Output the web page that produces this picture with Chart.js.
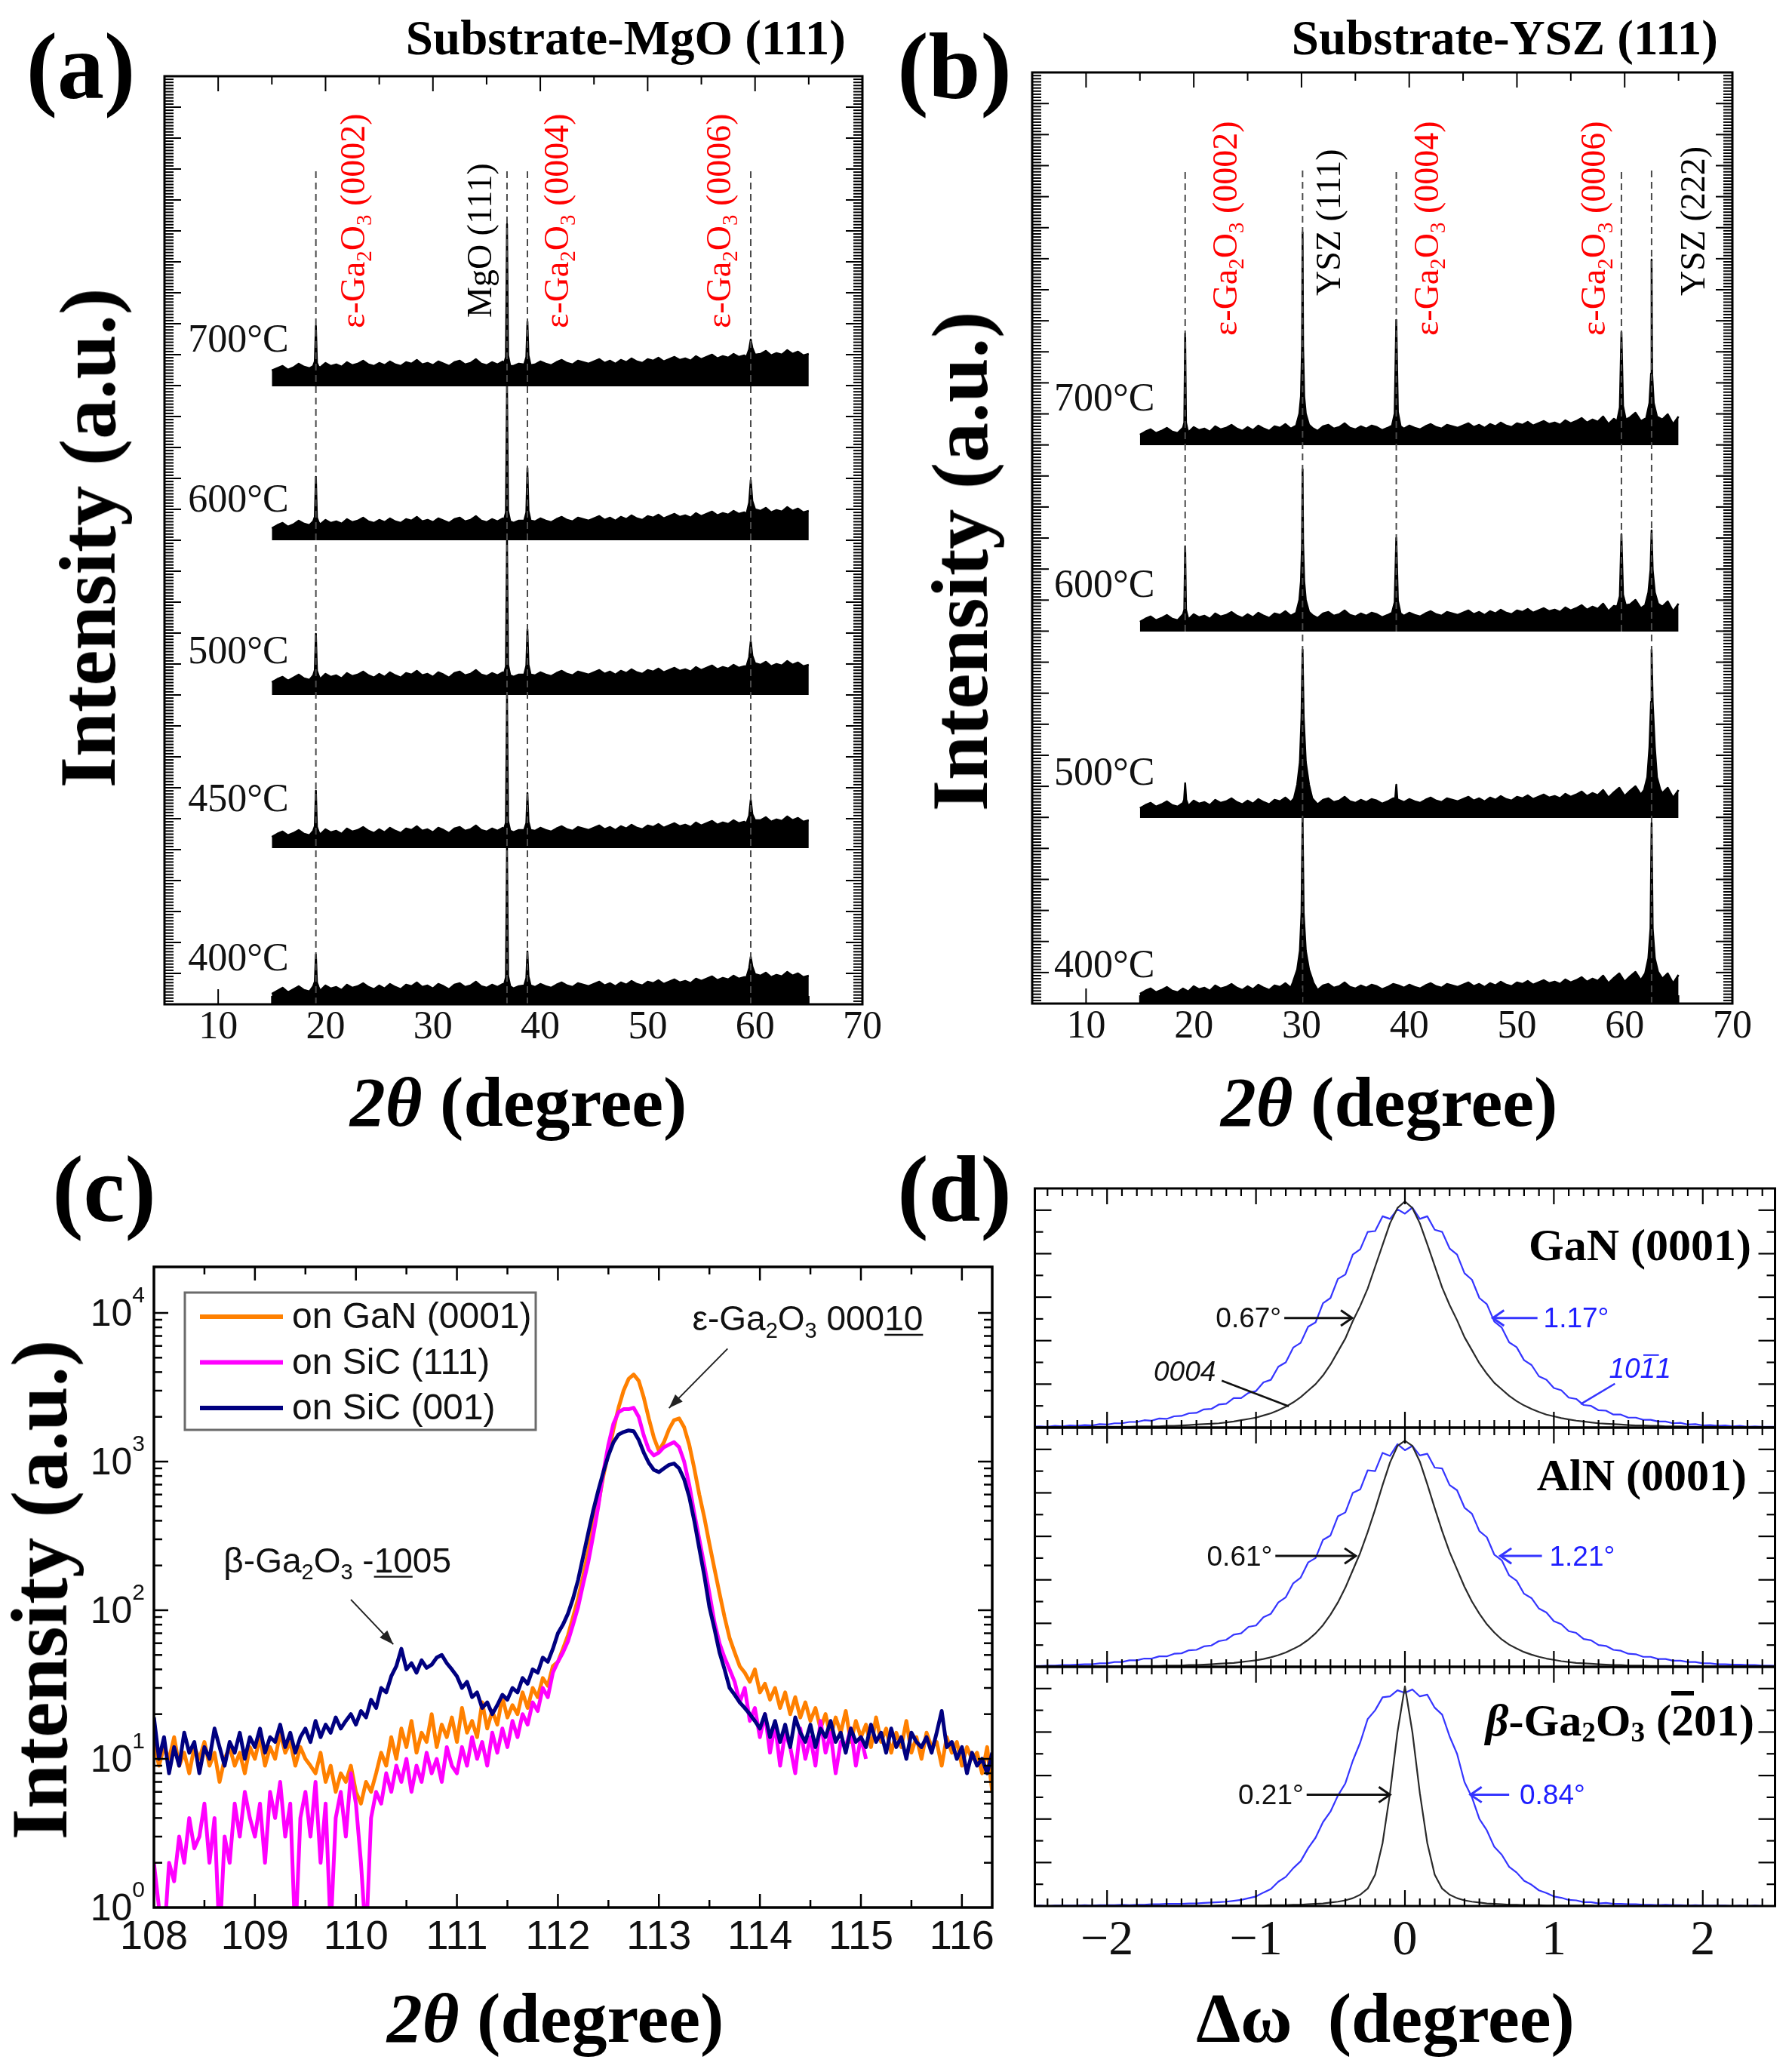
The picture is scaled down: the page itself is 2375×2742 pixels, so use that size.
<!DOCTYPE html>
<html>
<head>
<meta charset="utf-8">
<script src="https://cdn.jsdelivr.net/npm/chart.js@4.4.1/dist/chart.umd.min.js"></script>
<style>
html, body { margin: 0; padding: 0; background: #fff; }
#page { position: relative; width: 2375px; height: 2742px; overflow: hidden; background: #fff; }
canvas { position: absolute; }
.t { position: absolute; white-space: nowrap; line-height: 1; color: #000; z-index: 5;
     font-family: "Liberation Serif", "Times New Roman", serif; font-weight: bold; }
.c { transform: translate(-50%, -50%); }
.r { transform: translate(-100%, -50%); }
.v { transform: translate(-50%, -50%) rotate(-90deg); }
.t sub { font-size: 0.62em; vertical-align: -0.22em; line-height: 0; }
</style>
</head>
<body>
<div id="page">
  <canvas id="cA" width="1250" height="1420" style="left:0;top:0"></canvas>
  <canvas id="cB" width="1125" height="1420" style="left:1250px;top:0"></canvas>
  <canvas id="cC" width="1360" height="1010" style="left:0;top:1600px"></canvas>
  <canvas id="cD1" width="1075" height="335" style="left:1300px;top:1566px"></canvas>
  <canvas id="cD2" width="1075" height="335" style="left:1300px;top:1883px"></canvas>
  <canvas id="cD3" width="1075" height="416" style="left:1300px;top:2200px"></canvas>

  <div class="t c" style="left:107px;top:89px;font-size:124px">(a)</div>
  <div class="t c" style="left:1265px;top:89px;font-size:124px">(b)</div>
  <div class="t c" style="left:138px;top:1577px;font-size:124px">(c)</div>
  <div class="t c" style="left:1265px;top:1577px;font-size:124px">(d)</div>

  <div class="t r" style="left:1121px;top:50px;font-size:65px">Substrate-MgO (111)</div>
  <div class="t r" style="left:2277px;top:50px;font-size:65px">Substrate-YSZ (111)</div>

  <div class="t v" style="left:117px;top:713px;font-size:106px">Intensity (a.u.)</div>
  <div class="t v" style="left:1273px;top:744px;font-size:106px">Intensity (a.u.)</div>
  <div class="t v" style="left:53px;top:2107px;font-size:106px">Intensity (a.u.)</div>

  <div class="t c" style="left:687px;top:1460px;font-size:94px"><i>2θ</i> (degree)</div>
  <div class="t c" style="left:1841px;top:1460px;font-size:94px"><i>2θ</i> (degree)</div>
  <div class="t c" style="left:736px;top:2674px;font-size:94px"><i>2θ</i> (degree)</div>
  <div class="t c" style="left:1836px;top:2674px;font-size:94px">Δω&nbsp;&nbsp;(degree)</div>

  <div class="t r" style="left:2321px;top:1650px;font-size:60px">GaN (0001)</div>
  <div class="t r" style="left:2315px;top:1955px;font-size:60px">AlN (0001)</div>
  <div class="t r" style="left:2325px;top:2280px;font-size:60px"><i>β</i>-Ga<sub>2</sub>O<sub>3</sub> (<span style="text-decoration:overline">2</span>01)</div>
</div>

<script>
// ---------- data: (a) MgO (111), (b) YSZ (111) ----------
const xGridAB = [
  15,15.5,16,16.5,17,17.5,18,18.5,19,19.5,20,20.5,21,21.5,22,22.5,23,23.5,24,24.5,
  25,25.5,26,26.5,27,27.5,28,28.5,29,29.5,30,30.5,31,31.5,32,32.5,33,33.5,34,34.5,
  35,35.5,36,36.5,37,37.5,38,38.5,39,39.5,40,40.5,41,41.5,42,42.5,43,43.5,44,44.5,
  45,45.5,46,46.5,47,47.5,48,48.5,49,49.5,50,50.5,51,51.5,52,52.5,53,53.5,54,54.5,
  55,55.5,56,56.5,57,57.5,58,58.5,59,59.5,60,60.5,61,61.5,62,62.5,63,63.5,64,64.5,65];

const aTemps = ['700°C', '600°C', '500°C', '450°C', '400°C'];
const aBase = [819, 615, 410, 207, 0];
const aTempY = [883, 671, 470, 274, 63];
const aNoise700 = [
  840,843,846,841,844,849,845,843,847,844,850,846,848,845,851,847,849,853,848,846,
  850,847,852,848,846,851,849,854,848,850,847,852,849,846,851,853,848,850,855,849,
  847,851,848,852,850,846,849,853,851,848,852,849,847,851,854,850,848,853,851,849,
  852,855,850,853,849,854,851,856,852,850,855,853,857,852,855,858,854,856,853,859,
  855,858,861,856,859,857,862,858,860,864,859,862,866,860,863,861,867,862,865,860,862];
const aNoise600 = [
  631,635,638,633,636,641,637,635,639,636,642,638,640,637,643,639,641,645,640,638,
  642,639,644,640,638,643,641,646,640,642,639,644,641,638,643,645,640,642,647,641,
  639,643,640,644,642,638,641,645,643,640,644,641,639,643,646,642,640,645,643,641,
  644,647,642,645,641,646,643,648,644,642,647,645,649,644,647,650,646,648,645,651,
  647,650,653,648,651,649,654,650,652,656,651,654,658,652,655,653,659,654,657,652,654];
const aNoise500 = [
  427,431,434,429,433,437,432,430,435,431,438,434,436,432,439,435,437,441,436,433,
  438,434,440,436,433,439,437,442,436,438,434,440,437,433,439,441,436,438,443,437,
  435,439,436,440,438,434,437,441,439,436,440,437,435,439,442,438,436,441,439,437,
  440,443,438,441,437,442,439,444,440,438,443,441,445,440,443,446,442,444,441,447,
  443,446,449,444,447,445,450,446,448,452,447,450,454,448,451,449,455,450,453,448,450];
const aNoise450 = [
  222,226,229,224,227,231,226,224,229,225,232,228,230,226,233,229,231,235,230,227,
  232,228,234,230,227,233,231,236,230,232,228,234,231,227,233,235,230,232,237,231,
  229,233,230,234,232,228,231,235,233,230,234,231,229,233,236,232,230,235,233,231,
  234,237,232,235,231,236,233,238,234,232,237,235,239,234,237,240,236,238,235,241,
  237,240,243,238,241,239,244,240,242,246,241,244,248,242,245,243,249,244,247,242,244];
const aNoise400 = [
  14,18,22,16,20,24,19,17,22,18,25,21,23,19,26,22,24,28,23,20,
  25,21,27,23,20,26,24,29,23,25,21,27,24,20,26,28,23,25,30,24,
  22,26,23,27,25,21,24,28,26,23,27,24,22,26,29,25,23,28,26,24,
  27,30,25,28,24,29,26,31,27,25,30,28,32,27,30,33,29,31,28,34,
  31,34,37,32,35,33,38,34,36,40,35,38,42,36,39,37,43,38,41,36,38];
const aPeaks700 = [
  [[18.85,846],[19.0,852],[19.1,899],[19.2,850],[19.35,845]],
  [[36.6,848],[36.8,858],[36.9,1034],[37.0,860],[37.2,846]],
  [[38.5,848],[38.7,858],[38.8,905],[38.9,860],[39.1,847]],
  [[59.2,858],[59.45,868],[59.6,881],[59.75,870],[60.0,861]]];
const aPeaks600 = [
  [[18.85,640],[19.0,646],[19.1,699],[19.2,645],[19.35,639]],
  [[36.6,641],[36.8,652],[36.9,819],[37.0,654],[37.2,640]],
  [[38.5,641],[38.7,652],[38.8,711],[38.9,654],[39.1,641]],
  [[59.2,650],[59.45,665],[59.6,695],[59.75,667],[60.0,656]]];
const aPeaks500 = [
  [[18.85,436],[19.0,443],[19.1,491],[19.2,442],[19.35,436]],
  [[36.6,437],[36.8,448],[36.9,615],[37.0,450],[37.2,436]],
  [[38.5,437],[38.7,449],[38.8,497],[38.9,450],[39.1,437]],
  [[59.2,448],[59.45,460],[59.6,481],[59.75,462],[60.0,452]]];
const aPeaks450 = [
  [[18.85,230],[19.0,236],[19.1,283],[19.2,235],[19.35,229]],
  [[36.6,231],[36.8,241],[36.9,410],[37.0,243],[37.2,230]],
  [[38.5,231],[38.7,240],[38.8,280],[38.9,242],[39.1,231]],
  [[59.2,240],[59.45,250],[59.6,271],[59.75,252],[60.0,244]]];
const aPeaks400 = [
  [[18.85,24],[19.0,30],[19.1,66],[19.2,29],[19.35,23]],
  [[36.6,25],[36.8,36],[36.9,207],[37.0,38],[37.2,24]],
  [[38.5,25],[38.7,35],[38.8,70],[38.9,37],[39.1,25]],
  [[59.2,36],[59.45,48],[59.6,63],[59.75,50],[60.0,40]]];
const aRefX = [19.1, 36.9, 38.8, 59.6];
const aRefTop = 1109;
const aNoteX = [22.5, 34.3, 41.5, 56.6];
const aNoteY = [896, 910, 896, 896];
const aNoteText = ['ε(0002)', 'MgO (111)', 'ε(0004)', 'ε(0006)'];

const bTemps = ['700°C', '600°C', '500°C', '400°C'];
const bBase = [740, 493, 246, 0];
const bTempY = [804, 557, 308, 53];
const bNoise700 = [
  754,758,761,756,759,763,758,756,761,757,764,760,762,758,765,761,763,767,762,759,
  764,760,766,762,759,765,763,768,762,764,760,766,763,759,765,767,762,764,769,763,
  761,765,762,766,764,760,763,767,765,762,766,763,761,765,768,764,762,767,765,763,
  766,769,764,767,763,768,765,770,766,764,769,767,771,766,769,772,768,770,767,773,
  769,772,776,770,774,771,778,768,775,781,770,777,783,772,779,770,785,774,781,768,778];
const bNoise600 = [
  506,510,513,508,511,515,510,508,513,509,516,512,514,510,517,513,515,519,514,511,
  516,512,518,514,511,517,515,520,514,516,512,518,515,511,517,519,514,516,521,515,
  513,517,514,518,516,512,515,519,517,514,518,515,513,517,520,516,514,519,517,515,
  518,521,516,519,515,520,517,522,518,516,521,519,523,518,521,524,520,522,519,525,
  521,524,528,522,526,523,530,520,527,533,522,529,535,524,531,522,537,526,533,520,530];
const bNoise500 = [
  259,263,266,261,264,268,263,261,266,262,269,265,267,263,270,266,268,272,267,264,
  269,265,271,267,264,270,268,273,267,269,265,271,268,264,270,272,267,269,274,268,
  266,270,267,271,269,265,268,272,270,267,271,268,266,270,273,269,267,272,270,268,
  271,274,269,272,268,273,270,275,271,269,274,272,276,271,274,277,273,275,272,278,
  274,277,281,275,279,276,283,273,280,286,275,282,288,277,284,275,290,279,286,273,283];
const bNoise400 = [
  13,17,20,15,18,22,17,15,20,16,23,19,21,17,24,20,22,26,21,18,
  23,19,25,21,18,24,22,27,21,23,19,25,22,18,24,26,21,23,28,22,
  20,24,21,25,23,19,22,26,24,21,25,22,20,24,27,23,21,26,24,22,
  25,28,23,26,22,27,24,29,25,23,28,26,30,25,28,31,27,29,26,32,
  28,31,35,29,33,30,37,27,34,40,29,36,42,31,38,29,44,33,40,27,38];
const bPeaks700 = [
  [[19.0,763],[19.12,770],[19.2,888],[19.28,770],[19.4,762]],
  [[29.5,766],[29.8,782],[29.95,805],[30.05,870],[30.1,1022],[30.15,870],[30.25,805],[30.4,782],[30.7,767]],
  [[38.4,766],[38.65,782],[38.8,906],[38.95,784],[39.2,765]],
  [[59.3,772],[59.55,790],[59.7,890],[59.85,792],[60.1,774]],
  [[62.0,776],[62.3,796],[62.45,835],[62.5,986],[62.55,835],[62.7,796],[63.0,778]]];
const bPeaks600 = [
  [[19.0,516],[19.12,522],[19.2,606],[19.28,522],[19.4,515]],
  [[29.5,518],[29.8,535],[29.95,560],[30.05,610],[30.1,708],[30.15,610],[30.25,560],[30.4,535],[30.7,519]],
  [[38.4,518],[38.65,532],[38.8,617],[38.95,534],[39.2,517]],
  [[59.3,526],[59.55,540],[59.7,622],[59.85,542],[60.1,528]],
  [[61.9,528],[62.2,545],[62.4,575],[62.5,627],[62.6,575],[62.8,545],[63.1,530]]];
const bPeaks500 = [
  [[19.1,270],[19.2,292],[19.3,270]],
  [[29.3,272],[29.6,290],[29.85,320],[30.0,380],[30.1,469],[30.2,380],[30.4,320],[30.7,290],[31.0,272]],
  [[38.7,272],[38.8,290],[38.9,271]],
  [[61.8,283],[62.1,300],[62.3,340],[62.45,400],[62.5,469],[62.6,400],[62.8,340],[63.0,300],[63.3,284]]];
const bPeaks400 = [
  [[29.2,28],[29.6,45],[29.85,70],[30.0,120],[30.1,246],[30.2,120],[30.4,70],[30.7,45],[31.1,28]],
  [[61.9,40],[62.2,60],[62.4,100],[62.5,239],[62.6,100],[62.8,60],[63.1,42]]];
const bRefX = [19.2, 30.1, 38.8, 59.7, 62.5];
const bRefLow = [493, 0, 493, 493, 0];
const bRefTop = 1105;
const bNoteX = [22.86, 32.45, 41.6, 57.1, 66.3];
const bNoteY = [885, 938, 885, 885, 938];
const bNoteText = ['ε(0002)', 'YSZ (111)', 'ε(0004)', 'ε(0006)', 'YSZ (222)'];
const abTicks = [10, 20, 30, 40, 50, 60, 70];

// ---------- data: (c) 2theta scan, log intensity ----------
const xGridC = [
  108,108.05,108.1,108.15,108.2,108.25,108.3,108.35,108.4,108.45,108.5,108.55,108.6,108.65,108.7,108.75,108.8,108.85,108.9,108.95,
  109,109.05,109.1,109.15,109.2,109.25,109.3,109.35,109.4,109.45,109.5,109.55,109.6,109.65,109.7,109.75,109.8,109.85,109.9,109.95,
  110,110.05,110.1,110.15,110.2,110.25,110.3,110.35,110.4,110.45,110.5,110.55,110.6,110.65,110.7,110.75,110.8,110.85,110.9,110.95,
  111,111.05,111.1,111.15,111.2,111.25,111.3,111.35,111.4,111.45,111.5,111.55,111.6,111.65,111.7,111.75,111.8,111.85,111.9,111.95,
  112,112.05,112.1,112.15,112.2,112.25,112.3,112.35,112.4,112.45,112.5,112.55,112.6,112.65,112.7,112.75,112.8,112.85,112.9,112.95,
  113,113.05,113.1,113.15,113.2,113.25,113.3,113.35,113.4,113.45,113.5,113.55,113.6,113.65,113.7,113.75,113.8,113.85,113.9,113.95,
  114,114.05,114.1,114.15,114.2,114.25,114.3,114.35,114.4,114.45,114.5,114.55,114.6,114.65,114.7,114.75,114.8,114.85,114.9,114.95,
  115,115.05,115.1,115.15,115.2,115.25,115.3,115.35,115.4,115.45,115.5,115.55,115.6,115.65,115.7,115.75,115.8,115.85,115.9,115.95,
  116,116.05,116.1,116.15,116.2,116.25,116.3];
const cGaN = [
  13,9,12,10,14,9,11,8,12,10,13,9,11,7,10,12,9,11,8,12,
  10,14,9,12,10,15,11,13,9,12,10,9,8,11,7,9,6,8,7,9,
  6,5,7,6,8,11,9,14,10,16,12,18,11,15,13,20,12,17,14,19,
  13,22,15,18,14,24,16,21,17,26,19,23,20,28,22,30,26,35,31,42,
  45,55,68,90,120,170,250,380,520,800,1150,1650,2300,3000,3600,3850,3500,2700,1950,1450,
  1180,1350,1650,1900,1950,1700,1300,900,600,420,280,190,130,90,65,52,42,38,33,40,
  28,32,25,30,22,28,20,26,19,24,18,22,16,20,14,19,15,21,13,18,
  14,17,12,19,13,16,11,15,12,18,11,14,10,15,12,13,9,14,11,13,
  9,12,10,11,8,12,6];
const cSiC111 = [
  2,1,0.6,2,1.5,3,2,4,2.5,3,5,2,4,0.6,3,2,5,3,6,4,
  3,5,2,6,4,7,3,5,0.6,4,6,3,7,2,5,0.7,4,6,3,8,
  5,2,0.6,4,6,5,8,6,9,7,10,6,9,7,11,8,10,7,12,9,
  8,12,9,14,10,13,9,15,11,16,12,18,14,20,17,24,21,30,26,38,
  45,52,62,80,105,150,210,320,500,850,1300,1800,2150,2250,2250,2300,2000,1500,1200,1100,
  1150,1250,1300,1350,1250,1000,700,450,300,200,130,83,60,48,40,33,24,30,18,22,
  14,20,11,17,9,15,12,8,16,10,14,9,18,11,15,8,13,12,16,9,
  14,10];
const cSiC001 = [
  19,10,14,8,12,9,15,11,13,8,12,10,16,12,9,13,11,15,10,14,
  12,16,11,14,13,17,12,15,11,14,16,13,18,14,17,15,19,16,18,20,
  17,21,19,25,22,30,28,36,42,55,40,44,38,46,41,43,48,50,44,40,
  36,30,33,26,28,22,24,20,23,27,25,30,28,35,32,40,38,48,45,55,
  70,80,95,120,160,230,330,470,640,850,1100,1350,1520,1580,1620,1600,1400,1150,980,880,
  850,900,950,970,900,760,580,400,260,170,105,75,52,40,30,27,24,22,20,18,
  16,20,14,18,13,17,12,19,15,13,17,12,16,14,18,13,15,11,16,13,
  14,12,17,13,15,11,16,12,14,10,15,13,12,14,11,15,21,12,13,10,
  12,8,11,9,10,8,11];
const cLabels = ['on GaN (0001)', 'on SiC (111)', 'on SiC (001)'];
const cColors = ['#ff8000', '#ff00ff', '#000080'];
const cTicks = [108, 109, 110, 111, 112, 113, 114, 115, 116];
const cDecades = [1, 10, 100, 1000, 10000];
const cExp = ['0', '1', '2', '3', '4'];

// ---------- data: (d) rocking curves ----------
const xGridD = [
  -2.5,-2.45,-2.4,-2.35,-2.3,-2.25,-2.2,-2.15,-2.1,-2.05,-2,-1.95,-1.9,-1.85,-1.8,-1.75,-1.7,-1.65,-1.6,-1.55,
  -1.5,-1.45,-1.4,-1.35,-1.3,-1.25,-1.2,-1.15,-1.1,-1.05,-1,-0.95,-0.9,-0.85,-0.8,-0.75,-0.7,-0.65,-0.6,-0.55,
  -0.5,-0.45,-0.4,-0.35,-0.3,-0.25,-0.2,-0.15,-0.1,-0.05,0,
  0.05,0.1,0.15,0.2,0.25,0.3,0.35,0.4,0.45,0.5,0.55,0.6,0.65,0.7,0.75,0.8,0.85,0.9,0.95,1,
  1.05,1.1,1.15,1.2,1.25,1.3,1.35,1.4,1.45,1.5,1.55,1.6,1.65,1.7,1.75,1.8,1.85,1.9,1.95,2,
  2.05,2.1,2.15,2.2,2.25,2.3,2.35,2.4,2.45,2.5];
const dGaNBlue = [
  0.02,0.03,0.02,0.04,0.03,0.05,0.04,0.06,0.05,0.08, 0.07,0.10,0.10,0.13,0.13,0.17,0.16,0.21,0.20,0.26,
  0.27,0.33,0.34,0.42,0.43,0.53,0.55,0.68,0.68,0.80, 0.84,1.04,1.10,1.40,1.50,1.84,1.95,2.32,2.42,2.86,
  2.98,3.42,3.52,3.98,4.10,4.50,4.52,4.86,4.80,5.02, 4.92,
  5.06,4.80,4.86,4.55,4.50,4.12,3.98,3.55,3.40,2.98, 2.84,2.44,2.30,1.96,1.85,1.55,1.44,1.18,1.10,0.91,
  0.86,0.69,0.66,0.52,0.50,0.40,0.39,0.30,0.30,0.23, 0.23,0.18,0.18,0.14,0.14,0.10,0.11,0.07,0.08,0.05,
  0.06,0.04,0.05,0.03,0.04,0.02,0.03,0.02,0.02,0.02];
const dGaNBlack = [
  0.01,0.01,0.01,0.01,0.01,0.01,0.01,0.01,0.02,0.02, 0.02,0.02,0.02,0.02,0.03,0.03,0.03,0.03,0.04,0.04,
  0.05,0.06,0.07,0.08,0.09,0.10,0.12,0.14,0.17,0.20, 0.23,0.28,0.33,0.40,0.48,0.58,0.70,0.85,1.00,1.20,
  1.45,1.75,2.05,2.45,2.80,3.20,3.70,4.20,4.70,5.05, 5.20,
  5.05,4.70,4.22,3.72,3.22,2.82,2.47,2.08,1.78,1.48, 1.24,1.03,0.88,0.73,0.61,0.51,0.43,0.36,0.30,0.26,
  0.22,0.19,0.16,0.14,0.12,0.10,0.09,0.08,0.07,0.06, 0.05,0.05,0.04,0.04,0.03,0.03,0.03,0.02,0.02,0.02,
  0.02,0.02,0.01,0.01,0.01,0.01,0.01,0.01,0.01,0.01];
const dAlNBlue = [
  0.02,0.02,0.03,0.03,0.04,0.04,0.05,0.06,0.06,0.08, 0.08,0.11,0.11,0.15,0.15,0.19,0.19,0.24,0.24,0.30,
  0.31,0.38,0.39,0.47,0.49,0.59,0.62,0.74,0.77,0.92, 0.95,1.14,1.22,1.48,1.60,1.92,2.05,2.40,2.50,2.92,
  3.02,3.46,3.55,4.00,4.08,4.52,4.50,4.92,4.85,5.12, 4.98,
  5.08,4.86,4.90,4.58,4.56,4.18,4.06,3.66,3.52,3.12, 2.98,2.58,2.45,2.10,1.98,1.68,1.58,1.34,1.25,1.05,
  0.98,0.82,0.78,0.64,0.61,0.50,0.48,0.39,0.37,0.30, 0.29,0.23,0.23,0.18,0.18,0.14,0.14,0.11,0.11,0.08,
  0.08,0.06,0.06,0.05,0.05,0.04,0.04,0.03,0.03,0.02];
const dAlNBlack = [
  0.01,0.01,0.01,0.01,0.01,0.01,0.01,0.01,0.01,0.01, 0.01,0.01,0.01,0.02,0.02,0.02,0.02,0.02,0.03,0.03,
  0.03,0.04,0.04,0.05,0.06,0.07,0.08,0.09,0.11,0.13, 0.15,0.18,0.22,0.27,0.33,0.41,0.50,0.62,0.77,0.96,
  1.20,1.48,1.82,2.22,2.62,3.10,3.62,4.18,4.70,5.08, 5.20,
  5.08,4.72,4.20,3.65,3.12,2.64,2.24,1.84,1.50,1.22, 0.98,0.79,0.63,0.51,0.42,0.34,0.28,0.23,0.19,0.16,
  0.13,0.11,0.09,0.08,0.07,0.06,0.05,0.04,0.04,0.03, 0.03,0.03,0.02,0.02,0.02,0.02,0.02,0.01,0.01,0.01,
  0.01,0.01,0.01,0.01,0.01,0.01,0.01,0.01,0.01,0.01];
const dBetaBlue = [
  0.00,0.01,0.00,0.01,0.01,0.01,0.01,0.02,0.01,0.02, 0.02,0.02,0.03,0.02,0.03,0.03,0.04,0.04,0.05,0.05,
  0.05,0.06,0.06,0.07,0.08,0.09,0.10,0.12,0.14,0.18, 0.22,0.31,0.39,0.56,0.67,0.87,1.03,1.33,1.57,1.93,
  2.17,2.54,2.82,3.34,3.76,4.30,4.50,4.80,4.82,4.96, 4.90,
  4.98,4.82,4.86,4.56,4.40,3.90,3.50,2.85,2.50,2.00, 1.74,1.36,1.18,0.90,0.77,0.58,0.49,0.36,0.30,0.22,
  0.19,0.14,0.13,0.09,0.09,0.06,0.07,0.05,0.05,0.04, 0.04,0.03,0.03,0.02,0.03,0.02,0.02,0.01,0.02,0.01,
  0.01,0.01,0.01,0.00,0.01,0.00,0.01,0.00,0.00,0.00];
const dBetaBlack = [
  0,0,0,0,0,0,0,0,0,0, 0,0,0,0,0,0,0,0,0,0,
  0,0,0,0,0,0.01,0.01,0.01,0.01,0.01, 0.01,0.01,0.02,0.02,0.02,0.03,0.03,0.04,0.05,0.06,
  0.08,0.10,0.13,0.18,0.26,0.40,0.72,1.45,2.60,4.00, 5.05,
  4.00,2.60,1.45,0.72,0.40,0.26,0.18,0.13,0.10,0.08, 0.06,0.05,0.04,0.03,0.03,0.02,0.02,0.02,0.01,0.01,
  0.01,0.01,0.01,0.01,0.01,0,0,0,0,0, 0,0,0,0,0,0,0,0,0,0,
  0,0,0,0,0,0,0,0,0,0];
const dTicks = [-2, -1, 0, 1, 2];

// ---------- helpers ----------
const SERIF = '"Liberation Serif","Times New Roman",serif';
const SANS = '"Liberation Sans",Arial,sans-serif';
const BLUE = '#3535ff';

function seriesOf(grid, ys) {
  return ys.map((y, i) => ({ x: grid[i], y }));
}
function traceOf(noise, peaks) {
  const pts = [];
  xGridAB.forEach((x, i) => {
    if (!peaks.some(g => x >= g[0][0] && x <= g[g.length - 1][0])) pts.push({ x, y: noise[i] });
  });
  peaks.forEach(g => g.forEach(([x, y]) => pts.push({ x, y })));
  return pts.sort((p, q) => p.x - q.x);
}
function gaParts(code) {
  return [['ε-Ga', ''], ['2', 's'], ['O', ''], ['3', 's'], [' (' + code + ')', '']];
}
function labelParts(s) {
  return s.startsWith('ε') ? gaParts(s.slice(2, -1)) : [[s, '']];
}

function drawRich(ctx, px, py, t) {
  const size = t.size, fam = t.family || SERIF;
  ctx.save();
  ctx.translate(px, py);
  if (t.rot) ctx.rotate(t.rot);
  ctx.fillStyle = t.color || '#000';
  ctx.strokeStyle = t.color || '#000';
  ctx.textBaseline = 'alphabetic';
  ctx.textAlign = 'left';
  const base = t.baseline === 'middle' ? size * 0.34 : 0;
  const fnt = f => (f.includes('i') ? 'italic ' : '') + (t.weight || 'normal') + ' ' +
    (f.includes('s') || f.includes('p') ? Math.round(size * 0.62) : size) + 'px ' + fam;
  const widths = t.parts.map(([s, f]) => { ctx.font = fnt(f); return ctx.measureText(s).width; });
  const total = widths.reduce((p, q) => p + q, 0);
  let cx = t.align === 'right' ? -total : t.align === 'center' ? -total / 2 : 0;
  t.parts.forEach(([s, f], i) => {
    ctx.font = fnt(f);
    const dy = base + (f.includes('s') ? size * 0.2 : f.includes('p') ? -size * 0.45 : 0);
    ctx.fillText(s, cx, dy);
    ctx.lineWidth = Math.max(1.5, size * 0.05);
    if (f.includes('u')) {
      ctx.beginPath(); ctx.moveTo(cx, dy + size * 0.12); ctx.lineTo(cx + widths[i], dy + size * 0.12); ctx.stroke();
    }
    if (f.includes('o')) {
      const sh = f.includes('i') ? size * 0.12 : 0;
      ctx.beginPath(); ctx.moveTo(cx + sh, dy - size * 0.82); ctx.lineTo(cx + widths[i] + sh, dy - size * 0.82); ctx.stroke();
    }
    cx += widths[i];
  });
  ctx.restore();
}

function drawArrow(ctx, x1, y1, x2, y2, a) {
  ctx.save();
  ctx.strokeStyle = ctx.fillStyle = a.color || '#000';
  ctx.lineWidth = a.width || 2;
  ctx.beginPath(); ctx.moveTo(x1, y1); ctx.lineTo(x2, y2); ctx.stroke();
  if (a.head) {
    const ang = Math.atan2(y2 - y1, x2 - x1), L = a.size || 16, w = a.spread || 0.45;
    ctx.beginPath();
    ctx.moveTo(x2 - L * Math.cos(ang - w), y2 - L * Math.sin(ang - w));
    ctx.lineTo(x2, y2);
    ctx.lineTo(x2 - L * Math.cos(ang + w), y2 - L * Math.sin(ang + w));
    if (a.head === 'fill') { ctx.closePath(); ctx.fill(); } else ctx.stroke();
  }
  ctx.restore();
}

// frame + inward ticks on all four sides
const deco = {
  id: 'deco',
  afterDatasetsDraw(chart, args, o) {
    const { ctx, chartArea: a, scales: { x, y } } = chart;
    ctx.save();
    ctx.strokeStyle = '#000';
    const seg = (x1, y1, x2, y2) => { ctx.beginPath(); ctx.moveTo(x1, y1); ctx.lineTo(x2, y2); ctx.stroke(); };
    ctx.lineWidth = o.tickW;
    const xt = (vals, len) => vals.forEach(v => {
      const p = x.getPixelForValue(v);
      if (p < a.left + 2 || p > a.right - 2) return;
      seg(p, a.top, p, a.top + len); seg(p, a.bottom, p, a.bottom - len);
    });
    const yt = (vals, len) => vals.forEach(v => {
      const p = y.getPixelForValue(v);
      if (p < a.top + 2 || p > a.bottom - 2) return;
      seg(a.left, p, a.left + len, p); seg(a.right, p, a.right - len, p);
    });
    xt(o.xMinor, o.xLen[1]); xt(o.xMajor, o.xLen[0]);
    yt(o.yMinor, o.yLen[1]); yt(o.yMajor, o.yLen[0]);
    ctx.lineWidth = o.frameW;
    ctx.strokeRect(a.left, a.top, a.right - a.left, a.bottom - a.top);
    if (o.logLabels) {
      cDecades.forEach((v, i) => {
        const p = y.getPixelForValue(v);
        ctx.font = '30px ' + SANS;
        const ws = ctx.measureText(cExp[i]).width;
        ctx.font = '50px ' + SANS;
        const wb = ctx.measureText('10').width;
        const right = a.left - 12;
        ctx.fillStyle = '#111';
        ctx.textBaseline = 'middle';
        ctx.textAlign = 'left';
        ctx.fillText('10', right - ws - wb, p + 3);
        ctx.font = '30px ' + SANS;
        ctx.fillText(cExp[i], right - ws, p - 22);
      });
    }
    ctx.restore();
  }
};

// in-plot annotations (text, arrows, legend)
const notes = {
  id: 'notes',
  afterDraw(chart, args, o) {
    const { ctx, chartArea: a, scales: { x, y } } = chart;
    (o.arrows || []).forEach(ar => drawArrow(ctx,
      x.getPixelForValue(ar.from[0]), y.getPixelForValue(ar.from[1]),
      x.getPixelForValue(ar.to[0]), y.getPixelForValue(ar.to[1]), ar));
    (o.texts || []).forEach(t => drawRich(ctx, x.getPixelForValue(t.x), y.getPixelForValue(t.y), t));
    if (o.legend) {
      const L = o.legend, bx = a.left + 41, by = a.top + 34;
      ctx.save();
      ctx.fillStyle = '#fff';
      ctx.fillRect(bx, by, 465, 182);
      ctx.strokeStyle = '#6b6b6b'; ctx.lineWidth = 3;
      ctx.strokeRect(bx, by, 465, 182);
      L.labels.forEach((lab, i) => {
        const ry = by + 32 + i * 60.5;
        ctx.strokeStyle = L.colors[i]; ctx.lineWidth = 6;
        ctx.beginPath(); ctx.moveTo(bx + 20, ry); ctx.lineTo(bx + 130, ry); ctx.stroke();
        ctx.fillStyle = '#111'; ctx.font = '48px ' + SANS;
        ctx.textBaseline = 'middle'; ctx.textAlign = 'left';
        ctx.fillText(lab, bx + 142, ry + 2);
      });
      ctx.restore();
    }
  }
};

function range(from, to, step, skip) {
  const out = [];
  for (let v = from; v <= to + 1e-9; v += step) {
    const r = Math.round(v * 1000) / 1000;
    if (!skip || !skip(r)) out.push(r);
  }
  return out;
}

function xScale(min, max, ticks, opt) {
  return {
    type: 'linear', min, max, display: opt.show,
    afterBuildTicks: s => { s.ticks = ticks.map(v => ({ value: v })); },
    afterFit: s => { s.height = opt.h; },
    grid: { display: false, drawTicks: false },
    border: { display: false },
    ticks: {
      autoSkip: false, maxRotation: 0, minRotation: 0, padding: opt.pad, color: '#111',
      font: { family: opt.family, size: opt.size, lineHeight: 1.2 },
      callback: v => (v < 0 ? '\u2212' + Math.abs(v) : String(v))
    }
  };
}

function makeChart(id, datasets, o) {
  return new Chart(document.getElementById(id), {
    type: 'line',
    data: { datasets },
    plugins: [deco, notes],
    options: {
      responsive: false, animation: false, devicePixelRatio: 1, events: [],
      layout: { padding: o.padding },
      elements: { point: { radius: 0 }, line: { tension: 0, borderJoinStyle: 'round' } },
      scales: { x: o.x, y: o.y },
      plugins: { legend: { display: false }, tooltip: { enabled: false }, deco: o.deco, notes: o.notes || {} }
    }
  });
}

function bandSet(data, base) {
  return { data, borderColor: '#000', borderWidth: 2.5, backgroundColor: '#000', fill: { value: base } };
}
function dashSet(x, lo, hi) {
  return { data: [{ x, y: lo }, { x, y: hi }], borderColor: '#4a4a4a', borderWidth: 2, borderDash: [9, 6], fill: false };
}

// ---------- (a) ----------
const aTraces = [
  traceOf(aNoise700, aPeaks700), traceOf(aNoise600, aPeaks600), traceOf(aNoise500, aPeaks500),
  traceOf(aNoise450, aPeaks450), traceOf(aNoise400, aPeaks400)];
const abDeco = {
  tickW: 2, frameW: 3,
  xMajor: abTicks, xMinor: [15, 25, 35, 45, 55, 65], xLen: [20, 11],
  yLen: [22, 12]
};
makeChart('cA',
  [...aRefX.map(x => dashSet(x, 0, aRefTop)), ...aTraces.map((d, i) => bandSet(d, aBase[i]))],
  {
    padding: { left: 218, top: 101, right: 107, bottom: 0 },
    x: xScale(5, 70, abTicks, { show: true, h: 89, pad: 0, family: SERIF, size: 52 }),
    y: { type: 'linear', display: false, min: 0, max: 1230 },
    deco: Object.assign({}, abDeco, {
      yMajor: range(0, 1230, 41), yMinor: range(0, 1230, 4.1)
    }),
    notes: {
      texts: [
        ...aNoteX.map((x, i) => ({
          x, y: aNoteY[i], parts: labelParts(aNoteText[i]), size: 46, rot: -Math.PI / 2,
          baseline: 'middle', color: aNoteText[i].startsWith('ε') ? '#ff0000' : '#000'
        })),
        ...aTemps.map((s, i) => ({ x: 7.2, y: aTempY[i], parts: [[s, '']], size: 52, baseline: 'middle', color: '#111' }))
      ]
    }
  });

// ---------- (b) ----------
const bTraces = [
  traceOf(bNoise700, bPeaks700), traceOf(bNoise600, bPeaks600),
  traceOf(bNoise500, bPeaks500), traceOf(bNoise400, bPeaks400)];
makeChart('cB',
  [...bRefX.map((x, i) => dashSet(x, bRefLow[i], bRefTop)), ...bTraces.map((d, i) => bandSet(d, bBase[i]))],
  {
    padding: { left: 118, top: 96, right: 79, bottom: 0 },
    x: xScale(5, 70, abTicks, { show: true, h: 90, pad: 0, family: SERIF, size: 52 }),
    y: { type: 'linear', display: false, min: 0, max: 1234 },
    deco: Object.assign({}, abDeco, {
      yMajor: range(0, 1234, 41.13), yMinor: range(0, 1234, 4.113)
    }),
    notes: {
      texts: [
        ...bNoteX.map((x, i) => ({
          x, y: bNoteY[i], parts: labelParts(bNoteText[i]), size: 46, rot: -Math.PI / 2,
          baseline: 'middle', color: bNoteText[i].startsWith('ε') ? '#ff0000' : '#000'
        })),
        ...bTemps.map((s, i) => ({ x: 7.03, y: bTempY[i], parts: [[s, '']], size: 52, baseline: 'middle', color: '#111' }))
      ]
    }
  });

// ---------- (c) ----------
const cSeries = [cGaN, cSiC111, cSiC001];
const cLogMinor = [];
cDecades.forEach(d => [2, 3, 4, 5, 6, 7, 8, 9].forEach(m => { if (d * m < 20400) cLogMinor.push(d * m); }));
makeChart('cC',
  // first dataset is drawn on top, so the list runs from SiC (001) back to GaN
  [2, 1, 0].map(i => ({
    data: seriesOf(xGridC, cSeries[i]), borderColor: cColors[i], borderWidth: 5, fill: false
  })),
  {
    padding: { left: 204, top: 79, right: 45, bottom: 0 },
    x: xScale(108, 116.3, cTicks, { show: true, h: 82, pad: 8, family: SANS, size: 54 }),
    y: { type: 'logarithmic', display: false, min: 1, max: 20400 },
    deco: {
      tickW: 2.5, frameW: 3.5,
      xMajor: cTicks, xMinor: range(108.5, 116, 1), xLen: [18, 10],
      yMajor: cDecades, yMinor: cLogMinor, yLen: [19, 11], logLabels: true
    },
    notes: {
      legend: { labels: cLabels, colors: cColors },
      arrows: [
        { from: [113.68, 5750], to: [113.1, 2290], color: '#222', width: 2, head: 'fill', size: 20, spread: 0.35 },
        { from: [109.95, 118], to: [110.37, 59], color: '#222', width: 2, head: 'fill', size: 20, spread: 0.35 }
      ],
      texts: [
        { x: 113.33, y: 7600, family: SANS, size: 46, color: '#111',
          parts: [['ε-Ga', ''], ['2', 's'], ['O', ''], ['3', 's'], [' 000', ''], ['10', 'u']] },
        { x: 108.69, y: 179, family: SANS, size: 46, color: '#111',
          parts: [['β-Ga', ''], ['2', 's'], ['O', ''], ['3', 's'], [' -', ''], ['10', 'u'], ['05', '']] }
      ]
    }
  });

// ---------- (d) ----------
const dDeco = {
  tickW: 2.2, frameW: 3,
  xMajor: dTicks, xMinor: range(-2.4, 2.4, 0.1, v => Number.isInteger(v)), xLen: [21, 10],
  yMajor: [1, 2, 3, 4, 5], yMinor: [0.5, 1.5, 2.5, 3.5, 4.5], yLen: [22, 11]
};
function dSets(black, blue) {
  return [
    { data: seriesOf(xGridD, black), borderColor: '#2a2a2a', borderWidth: 2.2, fill: false },
    { data: seriesOf(xGridD, blue), borderColor: BLUE, borderWidth: 2.2, fill: false }
  ];
}
function fwhmNotes(left, right, y) {
  return {
    arrows: [
      { from: [left.tail, y], to: [left.tip, y], color: '#111', width: 3, head: 'open', size: 18, spread: 0.6 },
      { from: [right.tail, y], to: [right.tip, y], color: BLUE, width: 3, head: 'open', size: 18, spread: 0.6 }
    ],
    texts: [
      { x: left.text, y, parts: [[left.label, '']], family: SANS, size: 37, align: 'right', baseline: 'middle', color: '#111' },
      { x: right.text, y, parts: [[right.label, '']], family: SANS, size: 37, baseline: 'middle', color: '#1e1eff' }
    ]
  };
}
const dY = { type: 'linear', display: false, min: 0, max: 5.5 };
const dPadX = { left: 71.5, right: 22.5 };

const gaNotes = fwhmNotes({ label: '0.67°', text: -0.83, tail: -0.81, tip: -0.355 },
                          { label: '1.17°', text: 0.93, tail: 0.89, tip: 0.59 }, 2.52);
gaNotes.arrows.push(
  { from: [-1.23, 1.08], to: [-0.78, 0.49], color: '#111', width: 2.5 },
  { from: [1.41, 1.01], to: [1.18, 0.54], color: BLUE, width: 2.5 });
gaNotes.texts.push(
  { x: -1.27, y: 1.29, parts: [['0004', 'i']], family: SANS, size: 37, align: 'right', baseline: 'middle', color: '#111' },
  { x: 1.37, y: 1.36, parts: [['10', 'i'], ['1', 'io'], ['1', 'i']], family: SANS, size: 37, baseline: 'middle', color: '#1e1eff' });

makeChart('cD1', dSets(dGaNBlack, dGaNBlue), {
  padding: Object.assign({ top: 9, bottom: 9 }, dPadX),
  x: xScale(-2.485, 2.485, dTicks, { show: false, h: 0, pad: 0, family: SERIF, size: 66 }),
  y: dY, deco: dDeco, notes: gaNotes
});
makeChart('cD2', dSets(dAlNBlack, dAlNBlue), {
  padding: Object.assign({ top: 9, bottom: 9 }, dPadX),
  x: xScale(-2.485, 2.485, dTicks, { show: false, h: 0, pad: 0, family: SERIF, size: 66 }),
  y: dY, deco: dDeco,
  notes: fwhmNotes({ label: '0.61°', text: -0.89, tail: -0.87, tip: -0.33 },
                   { label: '1.21°', text: 0.97, tail: 0.92, tip: 0.64 }, 2.55)
});
makeChart('cD3', dSets(dBetaBlack, dBetaBlue), {
  padding: Object.assign({ top: 9, bottom: 0 }, dPadX),
  x: xScale(-2.485, 2.485, dTicks, { show: true, h: 90, pad: 7, family: SERIF, size: 66 }),
  y: dY, deco: dDeco,
  notes: fwhmNotes({ label: '0.21°', text: -0.68, tail: -0.66, tip: -0.1 },
                   { label: '0.84°', text: 0.77, tail: 0.7, tip: 0.44 }, 2.56)
});
</script>
</body>
</html>
